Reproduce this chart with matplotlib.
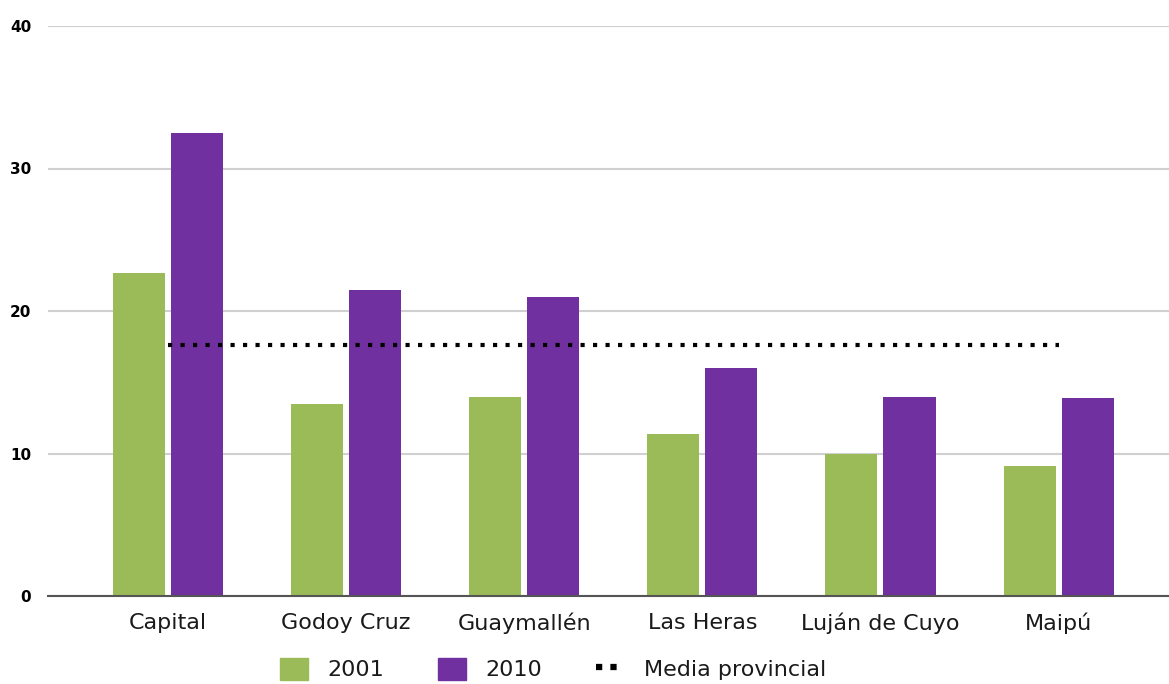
import numpy as np
import matplotlib
matplotlib.use("Agg")
import matplotlib.pyplot as plt
from matplotlib.lines import Line2D
from matplotlib.patches import Patch

departamentos = ["Capital", "Godoy Cruz", "Guaymallén", "Las Heras", "Luján de Cuyo", "Maipú"]
valores_2001 = [22.7, 13.5, 14.0, 11.4, 10.0, 9.1]
valores_2010 = [32.5, 21.5, 21.0, 16.0, 14.0, 13.9]
media_provincial = 17.6

verde = "#9BBB59"
violeta = "#7030A0"

fig = plt.figure(figsize=(11.69, 6.84), dpi=100)
ax = fig.add_axes([48 / 1169, 1 - 596 / 684, 1 - 48 / 1169, (596 - 26) / 684])

x = np.arange(len(departamentos))
ancho = 0.292
ax.bar(x - 0.163, valores_2001, ancho, color=verde, zorder=2)
ax.bar(x + 0.163, valores_2010, ancho, color=violeta, zorder=2)
ax.plot(x, [media_provincial] * len(x), color="black", linewidth=3,
        linestyle=(0, (1, 2)), dash_capstyle="butt", zorder=3)

ax.set_xlim(-0.674, 5.62)
ax.set_ylim(0, 40)
ax.set_yticks([0, 10, 20, 30, 40])
ax.yaxis.grid(True, color="#d0d0d0", linewidth=1.5, zorder=0)
ax.set_axisbelow(True)
for lado in ["top", "right", "left"]:
    ax.spines[lado].set_visible(False)
ax.spines["bottom"].set_color("#555555")
ax.spines["bottom"].set_linewidth(1.5)
ax.spines["bottom"].set_zorder(4)

ax.set_xticks(x)
ax.set_xticklabels(departamentos, fontsize=16, color="#1a1a1a")
ax.tick_params(axis="x", length=0, pad=12)
ax.tick_params(axis="y", length=0, pad=12, labelsize=11)
for t in ax.get_yticklabels():
    t.set_fontweight("bold")

manejadores = [
    Patch(color=verde, label="2001"),
    Patch(color=violeta, label="2010"),
    Line2D([0], [0], color="black", linewidth=4.5, linestyle=(0, (1, 1.3)),
           dash_capstyle="butt", label="Media provincial"),
]
fig.legend(handles=manejadores, loc="center", bbox_to_anchor=(0.473, 0.022), ncol=3,
           frameon=False, fontsize=16, handlelength=1.26, handleheight=1.2,
           columnspacing=2.4, handletextpad=0.9, labelcolor="#1a1a1a")

fig.savefig("out.png", dpi=100)
